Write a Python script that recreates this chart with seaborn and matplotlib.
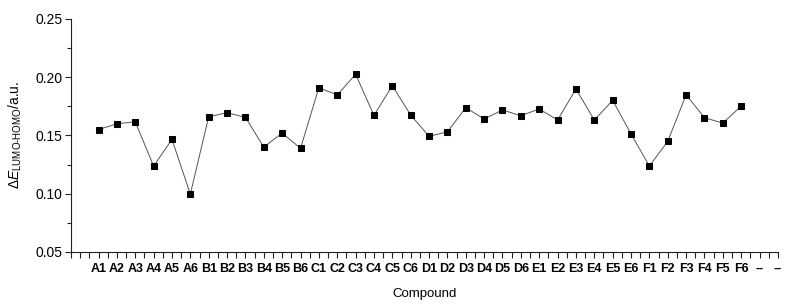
import numpy as np
import pandas as pd
import matplotlib
matplotlib.use('Agg')
import matplotlib.pyplot as plt
from matplotlib.ticker import MultipleLocator
import seaborn as sns

# compound labels and gap values
compounds = ['A1', 'A2', 'A3', 'A4', 'A5', 'A6',
             'B1', 'B2', 'B3', 'B4', 'B5', 'B6',
             'C1', 'C2', 'C3', 'C4', 'C5', 'C6',
             'D1', 'D2', 'D3', 'D4', 'D5', 'D6',
             'E1', 'E2', 'E3', 'E4', 'E5', 'E6',
             'F1', 'F2', 'F3', 'F4', 'F5', 'F6']
gap = [0.155, 0.160, 0.1617, 0.1237, 0.1466, 0.0996,
       0.166, 0.1695, 0.1655, 0.140, 0.152, 0.1389,
       0.191, 0.1847, 0.2025, 0.1672, 0.1927, 0.1675,
       0.1492, 0.1531, 0.1738, 0.1641, 0.1718, 0.1669,
       0.1727, 0.1632, 0.1898, 0.1632, 0.1801, 0.1512,
       0.1237, 0.1449, 0.1849, 0.1652, 0.1606, 0.1752]
extra_labels = ['--', '--']

sns.set_style('white')
plt.rcParams['font.family'] = ['Liberation Sans', 'DejaVu Sans']
plt.rcParams['mathtext.fontset'] = 'custom'
plt.rcParams['mathtext.rm'] = 'Liberation Sans'
plt.rcParams['mathtext.it'] = 'Liberation Sans:italic'

df = pd.DataFrame({'pos': np.arange(len(compounds)), 'gap': gap})

fig = plt.figure(figsize=(8.02, 3.05), dpi=100)
ax = fig.add_axes([0.0885, 0.174, 0.8815, 0.764])

sns.lineplot(data=df, x='pos', y='gap', ax=ax, color='#555555', linewidth=0.7,
             marker='s', markersize=5, markerfacecolor='black',
             markeredgecolor='black')

labels = compounds + extra_labels
ax.set_xlim(-1.5, len(labels) - 1)
ax.set_ylim(0.05, 0.25)
ax.set_xticks(range(len(labels)))
ax.set_xticklabels(labels, fontsize=9, fontweight='bold')
ax.xaxis.set_minor_locator(MultipleLocator(0.5))
ax.set_yticks([0.05, 0.10, 0.15, 0.20, 0.25])
ax.set_yticklabels(['0.05', '0.10', '0.15', '0.20', '0.25'], fontsize=10)
ax.yaxis.set_minor_locator(MultipleLocator(0.025))

ax.tick_params(axis='both', which='both', direction='out', color='#222222',
               width=0.8, bottom=True, left=True, labelcolor='black')
ax.tick_params(axis='x', which='both', length=4, pad=4)
ax.tick_params(axis='y', which='major', length=4, pad=2)
ax.tick_params(axis='y', which='minor', length=3)

for side in ['top', 'right']:
    ax.spines[side].set_visible(False)
for side in ['left', 'bottom']:
    ax.spines[side].set_color('#222222')
    ax.spines[side].set_linewidth(0.8)

ax.set_xlabel('Compound', fontsize=9.5, labelpad=9, color='black')
ax.set_ylabel(r'$\Delta E_{\mathrm{LUMO}\text{-}\mathrm{HOMO}}$/a.u.',
              fontsize=10, labelpad=8, color='black')

fig.savefig('out.png', dpi=100, facecolor='white')
